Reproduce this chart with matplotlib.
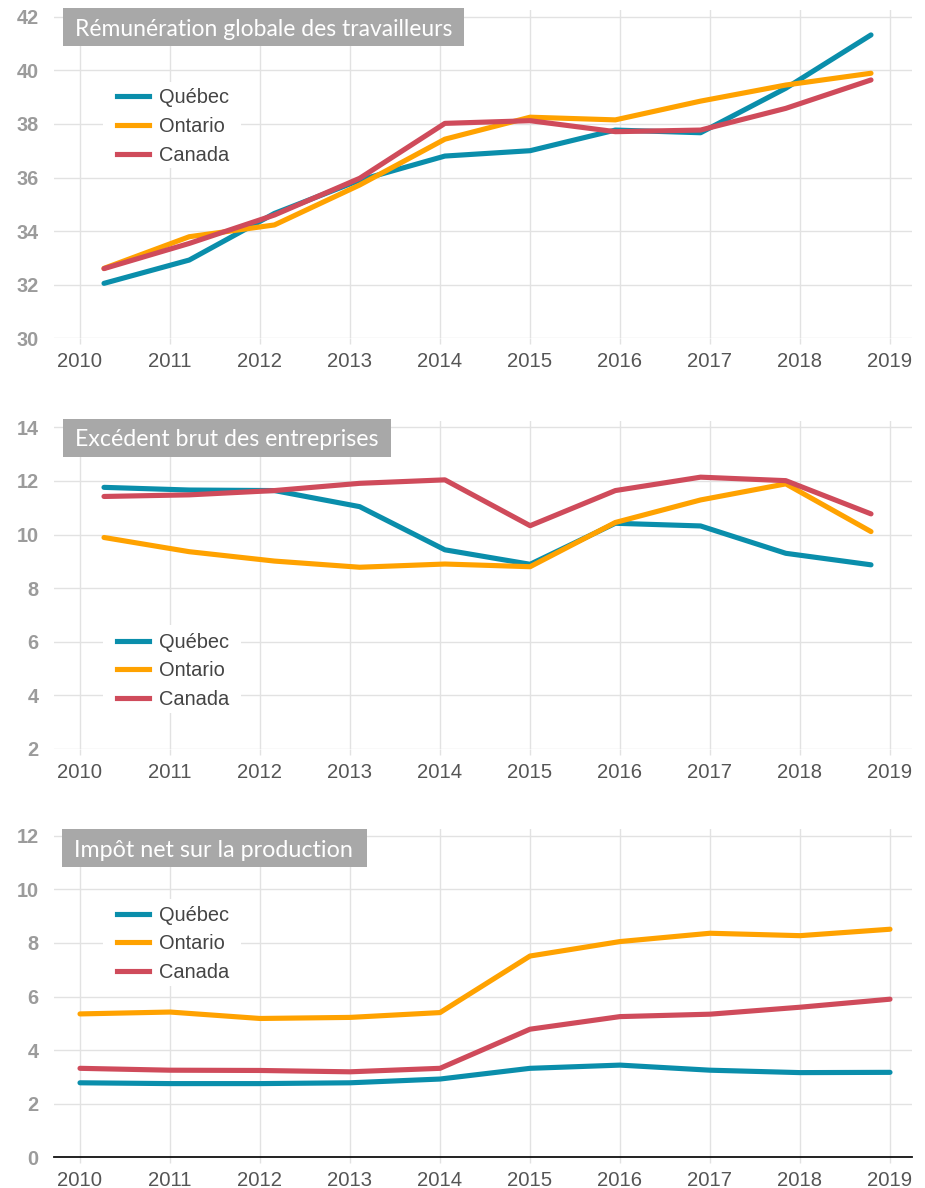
import numpy as np
import matplotlib
matplotlib.use("Agg")
import matplotlib.pyplot as plt
from matplotlib.patches import Rectangle
from matplotlib.lines import Line2D

plt.rcParams["font.family"] = ["Liberation Sans", "DejaVu Sans"]

# ---------------- data ----------------
years = [2010, 2011, 2012, 2013, 2014, 2015, 2016, 2017, 2018, 2019]
series_names = ["Québec", "Ontario", "Canada"]
series_colors = ["#0a8eab", "#ffa200", "#cf4b5b"]

panel_titles = ["Rémunération globale des travailleurs",
                "Excédent brut des entreprises",
                "Impôt net sur la production"]

remu_quebec = [32.05, 32.92, 34.66, 35.90, 36.80, 37.00, 37.77, 37.67, 39.33, 41.32]
remu_ontario = [32.61, 33.79, 34.23, 35.72, 37.43, 38.25, 38.15, 38.85, 39.45, 39.89]
remu_canada = [32.60, 33.54, 34.60, 35.97, 38.02, 38.12, 37.71, 37.77, 38.58, 39.64]

exc_quebec = [11.76, 11.66, 11.64, 11.04, 9.43, 8.89, 10.42, 10.32, 9.30, 8.87]
exc_ontario = [9.89, 9.36, 9.01, 8.78, 8.90, 8.80, 10.45, 11.29, 11.89, 10.11]
exc_canada = [11.42, 11.48, 11.64, 11.91, 12.04, 10.33, 11.64, 12.14, 12.01, 10.77]

imp_quebec = [2.78, 2.75, 2.75, 2.78, 2.92, 3.32, 3.44, 3.25, 3.16, 3.17]
imp_ontario = [5.35, 5.42, 5.18, 5.22, 5.40, 7.51, 8.05, 8.36, 8.27, 8.51]
imp_canada = [3.32, 3.25, 3.24, 3.19, 3.32, 4.78, 5.25, 5.34, 5.60, 5.90]

yticks_1 = [30, 32, 34, 36, 38, 40, 42]
yticks_2 = [2, 4, 6, 8, 10, 12, 14]
yticks_3 = [0, 2, 4, 6, 8, 10, 12]

# ---------------- layout ----------------
W, H = 925, 1188
fig = plt.figure(figsize=(W / 100, H / 100), dpi=100)


def fx(px):
    return px / W


def fy(py):
    return 1 - py / H


XLIM = (2010 - 26 / 90, 2019 + 22 / 90)
GRID = "#e2e2e2"
LW = 3.7

panels = [
    dict(top=10.0, bottom=338.3, ylim=(30, 42.25), yticks=yticks_1,
         data=[remu_quebec, remu_ontario, remu_canada], shifted=True,
         box=(63, 8, 464, 46), base=35.7, leg_rows=(96, 125, 154), leg_box=(82, 168),
         baseline=False),
    dict(top=420.6, bottom=749.0, ylim=(2, 14.25), yticks=yticks_2,
         data=[exc_quebec, exc_ontario, exc_canada], shifted=True,
         box=(63, 419, 391, 456.7), base=445.7, leg_rows=(640.7, 669, 697.7), leg_box=(625, 713),
         baseline=False),
    dict(top=829.0, bottom=1157.3, ylim=(0, 12.25), yticks=yticks_3,
         data=[imp_quebec, imp_ontario, imp_canada], shifted=False,
         box=(62, 829, 367, 866.7), base=857.3, leg_rows=(914, 942.3, 971), leg_box=(899, 986),
         baseline=True),
]

title_widths = [378, 305, 279]

for i, p in enumerate(panels):
    ax = fig.add_axes([fx(54), fy(p["bottom"]), fx(912) - fx(54),
                       (p["bottom"] - p["top"]) / H])
    ax.set_xlim(*XLIM)
    ax.set_ylim(*p["ylim"])
    if p["shifted"]:
        # series plotted on an evenly spaced grid offset from the year ticks
        xs = np.linspace(2010 + 24 / 90, 2010 + 791 / 90, len(years))
    else:
        xs = np.array(years, dtype=float)
    for vals, col in zip(p["data"], series_colors):
        ax.plot(xs, vals, color=col, lw=LW, solid_joinstyle="round",
                solid_capstyle="round", zorder=3)

    ax.set_xticks(years)
    ax.set_xticklabels([str(y) for y in years], family="Liberation Sans")
    ax.set_yticks(p["yticks"])
    ax.set_yticklabels([str(v) for v in p["yticks"]], family="Liberation Sans",
                       fontweight="bold")
    ax.grid(True, color=GRID, lw=1.0, zorder=0)
    ax.set_axisbelow(True)
    for s in ax.spines.values():
        s.set_visible(False)
    if p["baseline"]:
        ax.spines["bottom"].set_visible(True)
        ax.spines["bottom"].set_color("#111111")
        ax.spines["bottom"].set_linewidth(1.3)
    ax.tick_params(axis="x", length=4, width=1.0, color=GRID, pad=6,
                   labelsize=14.6, labelcolor="#555555")
    ax.tick_params(axis="y", length=0, pad=11, labelsize=14.3, labelcolor="#9b9b9b")

    # title box
    x0, y0, x1, y1 = p["box"]
    ax.add_patch(Rectangle((fx(x0), fy(y1)), fx(x1) - fx(x0), (y1 - y0) / H,
                           transform=fig.transFigure, facecolor="#a8a8a8",
                           edgecolor="none", zorder=6, clip_on=False))
    t = ax.text(fx(x0 + 12), fy(p["base"]), panel_titles[i], transform=fig.transFigure,
                ha="left", va="baseline", color="white", fontsize=16,
                family="Lato", zorder=7)
    fig.canvas.draw()
    w = t.get_window_extent().width
    t.set_fontsize(16 * title_widths[i] / w)

    # legend
    ly0, ly1 = p["leg_box"]
    ax.add_patch(Rectangle((fx(103), fy(ly1)), fx(241) - fx(103), (ly1 - ly0) / H,
                           transform=fig.transFigure, facecolor="white",
                           edgecolor="none", zorder=4, clip_on=False))
    for row, name, col in zip(p["leg_rows"], series_names, series_colors):
        ax.add_line(Line2D([fx(117), fx(149)], [fy(row), fy(row)], color=col, lw=LW,
                           transform=fig.transFigure, zorder=5, clip_on=False))
        ax.text(fx(159), fy(row + 7), name, transform=fig.transFigure, ha="left",
                va="baseline", fontsize=14.4, color="#444444",
                family="Liberation Sans", zorder=5)

fig.savefig("out.png", dpi=100, facecolor="white")
